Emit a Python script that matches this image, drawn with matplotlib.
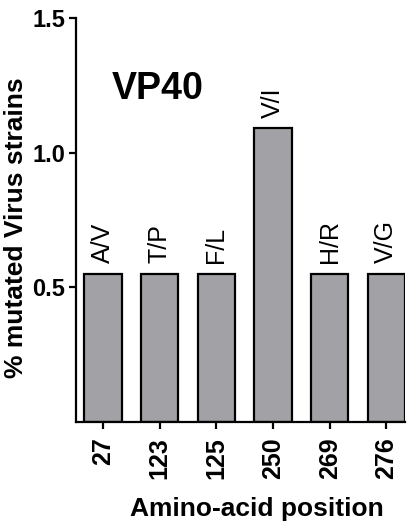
import numpy as np
import matplotlib
matplotlib.use("Agg")
import matplotlib.pyplot as plt

# values
positions = ["27", "123", "125", "250", "269", "276"]
mutations = ["A/V", "T/P", "F/L", "V/I", "H/R", "V/G"]
pct_mutated = [0.55, 0.55, 0.55, 1.09, 0.55, 0.55]
y_ticks = [0.5, 1.0, 1.5]

plt.rcParams['font.family'] = ['Liberation Sans', 'DejaVu Sans']

W, H = 415, 523
fig = plt.figure(figsize=(W / 100, H / 100), dpi=100)
# axes box in pixels: left spine x=76, right end x=405, y=0 at 422, y=1.5 at 18
ax = fig.add_axes([76 / W, 1 - 422 / H, (405 - 76) / W, (422 - 18) / H])

x = np.arange(len(positions))
ax.bar(x, pct_mutated, width=0.66, color='#a2a2a6', edgecolor='black',
       linewidth=1.6, zorder=2)

for xi, h, lab in zip(x, pct_mutated, mutations):
    ax.text(xi, h + 0.04, lab, rotation=90, ha='center', va='bottom',
            fontsize=18)

ax.set_xlim(-0.48, 5.33)
ax.set_ylim(0, 1.5)
ax.set_yticks(y_ticks)
ax.set_yticklabels(["%.1f" % t for t in y_ticks], fontsize=17, fontweight='bold')
ax.set_xticks(x)
ax.set_xticklabels(positions, rotation=90, fontsize=18, fontweight='bold')

for s in ['top', 'right']:
    ax.spines[s].set_visible(False)
for s in ['left', 'bottom']:
    ax.spines[s].set_linewidth(1.6)
ax.tick_params(width=1.6, length=5)
ax.tick_params(axis='y', pad=3)
ax.tick_params(axis='x', pad=6)

fig.text(16 / W, 1 - 228 / H, "% mutated Virus strains", rotation=90,
         ha='center', va='center', fontsize=19, fontweight='bold')
fig.text(257 / W, 1 - 516 / H, "Amino-acid position", ha='center',
         va='baseline', fontsize=19, fontweight='bold')
ax.text(0.11, 0.80, "VP40", transform=ax.transAxes, fontsize=27,
        fontweight='bold', ha='left', va='baseline')

fig.savefig("out.png", dpi=100)
